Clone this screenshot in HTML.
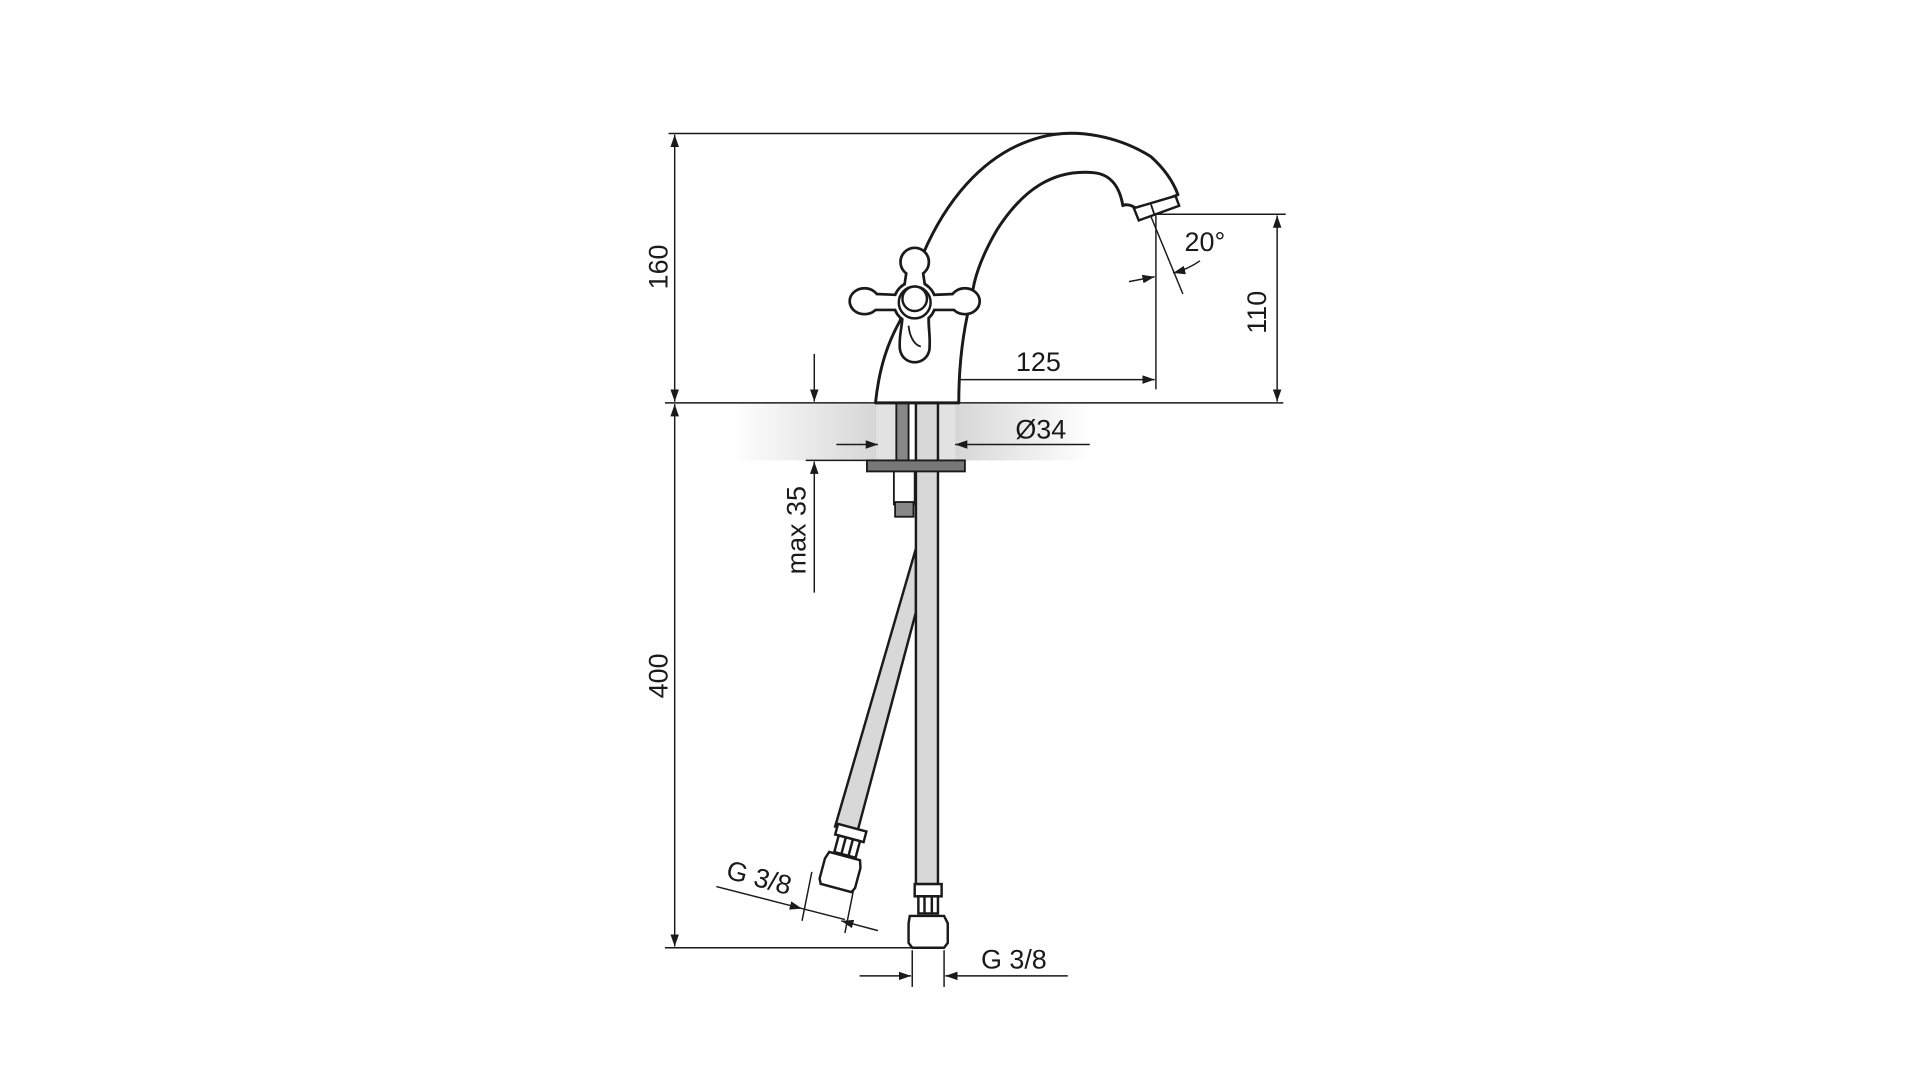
<!DOCTYPE html>
<html><head><meta charset="utf-8"><style>
html,body{margin:0;padding:0;background:#fff;width:1920px;height:1080px;overflow:hidden}
svg{display:block}
text{font-family:"Liberation Sans",sans-serif;fill:#1a1a1a}
</style></head><body>
<svg width="1920" height="1080" viewBox="0 0 1568 882" xmlns="http://www.w3.org/2000/svg">
<defs>
<linearGradient id="gl" x1="0" x2="1"><stop offset="0" stop-color="#fff"/><stop offset="1" stop-color="#d6d6d6"/></linearGradient>
<linearGradient id="gr" x1="0" x2="1"><stop offset="0" stop-color="#d6d6d6"/><stop offset="1" stop-color="#fff"/></linearGradient>
<marker id="a" viewBox="0 0 10 10" refX="10" refY="5" markerWidth="10" markerHeight="10" markerUnits="userSpaceOnUse" orient="auto-start-reverse"><path d="M0,1.5 L10,5 L0,8.5z" fill="#1a1a1a"/></marker>
<g id="hd">
<circle cx="747" cy="214" r="10.5"/>
<path d="M742,218 L752,218 L755,238 L739,238Z"/>
<ellipse cx="706" cy="246" rx="11" ry="9.5"/>
<path d="M710,241 L735,242 L735,252 L710,252Z"/>
<ellipse cx="788" cy="246" rx="11" ry="9.5"/>
<path d="M760,242 L784,241 L784,252 L760,252Z"/>
<path d="M738,252 L758,252 C756,265 759,272 758,285 C756,298 738,298 736,285 C735,272 739,265 738,252Z"/>
<circle cx="747" cy="247" r="16"/>
</g>
</defs>
<rect x="598" y="330" width="118" height="46" fill="url(#gl)"/>
<rect x="716" y="330" width="16" height="46" fill="#e2e2e2"/>
<rect x="766" y="330" width="14" height="46" fill="#e2e2e2"/>
<rect x="780" y="330" width="110" height="46" fill="url(#gr)"/>
<g stroke="#1a1a1a" stroke-width="1.2" fill="none">
<line x1="546" y1="109" x2="880" y2="109"/>
<line x1="543" y1="329" x2="1048" y2="329"/>
<line x1="543" y1="774" x2="745" y2="774"/>
<line x1="935" y1="175" x2="1050" y2="175"/>
<line x1="944" y1="176" x2="944" y2="318"/>
<line x1="750" y1="300" x2="750" y2="330"/>
<line x1="551" y1="110" x2="551" y2="328" marker-start="url(#a)" marker-end="url(#a)"/>
<line x1="551" y1="330" x2="551" y2="773" marker-start="url(#a)" marker-end="url(#a)"/>
<line x1="1043" y1="176" x2="1043" y2="328" marker-start="url(#a)" marker-end="url(#a)"/>
<line x1="751" y1="310" x2="943" y2="310" marker-start="url(#a)" marker-end="url(#a)"/>
<line x1="940" y1="177" x2="966" y2="240"/>
<line x1="922" y1="230" x2="943" y2="226" marker-end="url(#a)"/>
<path d="M980,213 Q970,220 958,223" marker-end="url(#a)"/>
<line x1="683" y1="363" x2="717" y2="363" marker-end="url(#a)"/>
<line x1="890" y1="363" x2="780" y2="363" marker-end="url(#a)"/>
<line x1="665" y1="289" x2="665" y2="328" marker-end="url(#a)"/>
<line x1="665" y1="484" x2="665" y2="377" marker-end="url(#a)"/>
<line x1="658" y1="376" x2="720" y2="376"/>
<line x1="745" y1="776" x2="745" y2="806"/>
<line x1="771" y1="776" x2="771" y2="806"/>
<line x1="702" y1="797" x2="744" y2="797" marker-end="url(#a)"/>
<line x1="872" y1="797" x2="772" y2="797" marker-end="url(#a)"/>
<line x1="585" y1="724" x2="655" y2="742" marker-end="url(#a)"/>
<line x1="717" y1="760" x2="687" y2="752" marker-end="url(#a)"/>
<line x1="655" y1="752" x2="663" y2="712"/>
<line x1="690" y1="762" x2="698" y2="722"/>
<line x1="655" y1="742" x2="690" y2="751"/>
</g>
<path d="M748,448 L682,675 L700,680 L748,500Z" fill="#d8d8d8" stroke="#1a1a1a" stroke-width="2"/>
<rect x="748" y="329" width="18" height="393" fill="#d8d8d8" stroke="#1a1a1a" stroke-width="2"/>
<rect x="732" y="329" width="10" height="47" fill="#888" stroke="#1a1a1a" stroke-width="1.5"/>
<rect x="708" y="376" width="80" height="9" fill="#777" stroke="#1a1a1a" stroke-width="1.5"/>
<rect x="730" y="385" width="17" height="27" fill="#fff" stroke="#1a1a1a" stroke-width="1.5"/>
<rect x="731" y="410" width="15" height="12" fill="#888" stroke="#1a1a1a" stroke-width="1.5"/>
<g stroke="#1a1a1a" stroke-width="2" fill="#fff">
<rect x="747" y="722" width="22" height="10"/>
<rect x="750" y="732" width="16" height="14"/>
<line x1="755" y1="732" x2="755" y2="746"/><line x1="761" y1="732" x2="761" y2="746"/>
<path d="M743,748 L771,748 L774,754 L774,770 L771,774 L745,774 L742,770 L742,754Z"/>
<g transform="translate(689,702) rotate(15)">
<rect x="-12" y="-27" width="24" height="9"/>
<rect x="-9" y="-18" width="18" height="14"/>
<line x1="-3" y1="-18" x2="-3" y2="-4"/><line x1="3" y1="-18" x2="3" y2="-4"/>
<path d="M-13,-3 L13,-3 L15,3 L15,20 L13,24 L-13,24 L-15,20 L-15,3Z"/>
</g>
</g>
<path d="M715,329 C718,300 725,280 735,262 L754,207 C770,170 800,125 850,112 C880,104 915,112 940,128 C950,137 958,148 962,159 L930,172 C926,168 920,166 917,168 C914,150 905,142 893,141 C860,138 835,155 814,188 C800,212 795,230 794,241 C786,270 783,300 783,329 Z" fill="#fff" stroke="#1a1a1a" stroke-width="2.4" stroke-linejoin="round"/>
<path d="M926,170 L960,160 L963,168 L930,180 Z" fill="#fff" stroke="#1a1a1a" stroke-width="2"/>
<line x1="940" y1="167" x2="943" y2="176" stroke="#1a1a1a" stroke-width="1.5"/>
<use href="#hd" fill="#1a1a1a" stroke="#1a1a1a" stroke-width="4.4" stroke-linejoin="round"/>
<use href="#hd" fill="#fff"/>
<g stroke="#1a1a1a" stroke-width="2" fill="#fff">
<circle cx="747" cy="247" r="13"/>
<circle cx="747" cy="244" r="10"/>
<path d="M742,266 C743,277 748,282 752,283" fill="none" stroke-width="1.5"/>
</g>
<text x="0" y="0" font-size="22" text-anchor="middle" transform="translate(545,218) rotate(-90)">160</text>
<text x="0" y="0" font-size="22" text-anchor="middle" transform="translate(545,552) rotate(-90)">400</text>
<text x="0" y="0" font-size="22" text-anchor="middle" transform="translate(1034,255) rotate(-90)">110</text>
<text x="0" y="0" font-size="22" text-anchor="middle" transform="translate(658,433) rotate(-90)">max 35</text>
<text x="848" y="303" font-size="22" text-anchor="middle">125</text>
<text x="984" y="205" font-size="22" text-anchor="middle">20°</text>
<text x="850" y="358" font-size="22" text-anchor="middle">Ø34</text>
<text x="828" y="791" font-size="22" text-anchor="middle">G 3/8</text>
<text x="0" y="0" font-size="22" text-anchor="middle" transform="translate(618,724) rotate(15)">G 3/8</text>
</svg>
</body></html>
